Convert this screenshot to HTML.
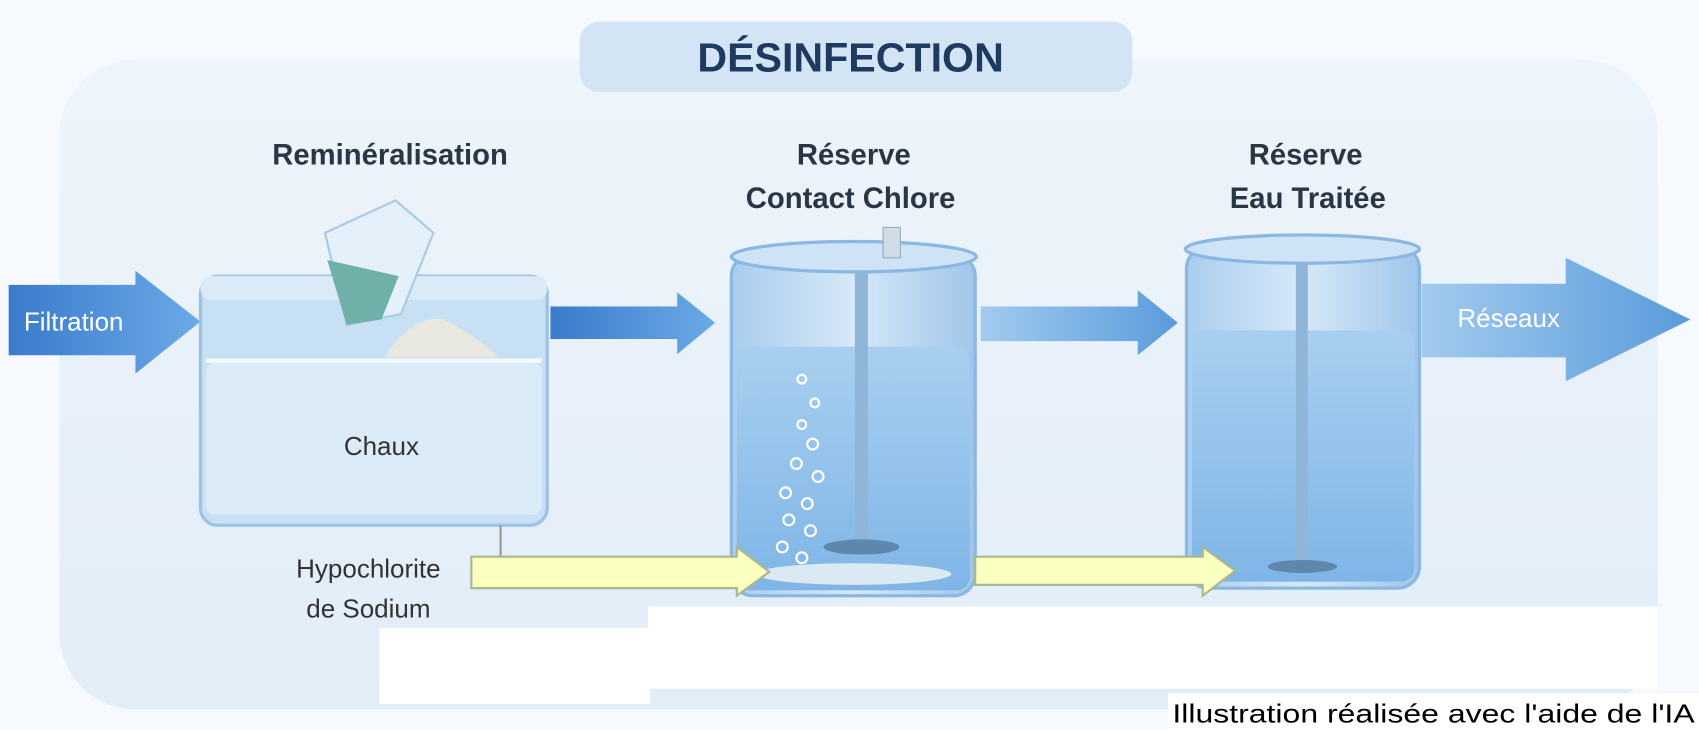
<!DOCTYPE html>
<html><head><meta charset="utf-8"><style>
html,body{margin:0;padding:0;background:#fff;}
svg{display:block;}
text{font-family:"Liberation Sans",sans-serif;}
</style></head><body>
<svg width="1699" height="730" viewBox="0 0 1568 674" preserveAspectRatio="none" xmlns="http://www.w3.org/2000/svg">
<defs>
<linearGradient id="bg" x1="0" y1="0" x2="0" y2="1"><stop offset="0" stop-color="#eef4fb"/><stop offset="1" stop-color="#e2edf8"/></linearGradient>
<linearGradient id="blueArr" x1="0" y1="0" x2="1" y2="0"><stop offset="0" stop-color="#3a7bcc"/><stop offset="1" stop-color="#6aaae6"/></linearGradient>
<linearGradient id="blueArr2" x1="0" y1="0" x2="1" y2="0"><stop offset="0" stop-color="#a2cbee"/><stop offset="1" stop-color="#5a9bdc"/></linearGradient>
<linearGradient id="cyl" x1="0" y1="0" x2="1" y2="0"><stop offset="0" stop-color="#a9cdee"/><stop offset=".5" stop-color="#d6e8f8"/><stop offset="1" stop-color="#9fc6ea"/></linearGradient>
<linearGradient id="water" x1="0" y1="0" x2="0" y2="1"><stop offset="0" stop-color="#a8cff0"/><stop offset="1" stop-color="#7fb5e6"/></linearGradient>
</defs>
<rect width="1568" height="674" fill="#f6f9fd"/>
<rect x="55" y="55" width="1475" height="600" rx="70" fill="url(#bg)"/>
<rect x="535" y="20" width="510" height="65" rx="18" fill="#d3e4f5"/>
<text x="785" y="66" font-size="38" font-weight="bold" fill="#1f3a60" text-anchor="middle">DÉSINFECTION</text>
<text x="360" y="152" font-size="27" font-weight="bold" fill="#2a3545" text-anchor="middle">Reminéralisation</text>
<text x="788" y="152" font-size="27" font-weight="bold" fill="#2a3545" text-anchor="middle">Réserve</text>
<text x="785" y="192" font-size="27" font-weight="bold" fill="#2a3545" text-anchor="middle">Contact Chlore</text>
<text x="1205" y="152" font-size="27" font-weight="bold" fill="#2a3545" text-anchor="middle">Réserve</text>
<text x="1207" y="192" font-size="27" font-weight="bold" fill="#2a3545" text-anchor="middle">Eau Traitée</text>
<polygon points="8,263 125,263 125,250 185,297 125,345 125,328 8,328" fill="url(#blueArr)"/>
<text x="22" y="305" font-size="24" fill="#fff">Filtration</text>
<rect x="185" y="255" width="320" height="230" rx="16" fill="#c8e0f4" stroke="#9cc3e6" stroke-width="3"/>
<rect x="190" y="335" width="310" height="140" rx="8" fill="#dcebf8"/>
<line x1="190" y1="333" x2="500" y2="333" stroke="#f4f9fe" stroke-width="4"/>
<rect x="185" y="255" width="320" height="22" rx="10" fill="#dbeaf7"/>
<path d="M355 330 Q380 290 410 295 Q440 310 460 330 Z" fill="#e8e8e0"/>
<path d="M300 215 L365 185 L400 215 L370 290 L320 300 Z" fill="#e4f0fa" stroke="#aacbe6" stroke-width="2"/>
<path d="M302 240 L368 255 L352 295 L320 300 Z" fill="#6fb1a8"/>
<text x="352" y="420" font-size="24" fill="#333" text-anchor="middle">Chaux</text>
<polygon points="508,283 625,283 625,270 660,298 625,327 625,313 508,313" fill="url(#blueArr)"/>
<rect x="675" y="235" width="225" height="315" rx="20" fill="url(#cyl)" stroke="#8ab8e2" stroke-width="3"/>
<rect x="680" y="320" width="215" height="225" rx="12" fill="url(#water)"/>
<ellipse cx="788" cy="237" rx="113" ry="14" fill="#cfe3f6" stroke="#8ab8e2" stroke-width="3"/>
<rect x="815" y="210" width="16" height="28" fill="#cfdbe6" stroke="#9ab" />
<rect x="789" y="250" width="12" height="255" fill="#8fb6d8"/>
<ellipse cx="795" cy="505" rx="35" ry="7" fill="#5d87ad"/>
<ellipse cx="788" cy="530" rx="90" ry="10" fill="#dbe9f4"/>
<g fill="none" stroke="#fff" stroke-width="2">
<circle cx="740" cy="350" r="4"/><circle cx="752" cy="372" r="4"/><circle cx="740" cy="392" r="4"/><circle cx="750" cy="410" r="5"/><circle cx="735" cy="428" r="5"/><circle cx="755" cy="440" r="5"/><circle cx="725" cy="455" r="5"/><circle cx="745" cy="465" r="5"/><circle cx="728" cy="480" r="5"/><circle cx="748" cy="490" r="5"/><circle cx="722" cy="505" r="5"/><circle cx="740" cy="515" r="5"/>
</g>
<polygon points="905,283 1050,283 1050,268 1087,298 1050,328 1050,315 905,315" fill="url(#blueArr2)"/>
<rect x="1095" y="228" width="215" height="315" rx="20" fill="url(#cyl)" stroke="#8ab8e2" stroke-width="3"/>
<rect x="1100" y="305" width="205" height="232" rx="12" fill="url(#water)"/>
<ellipse cx="1202" cy="230" rx="108" ry="13" fill="#cfe3f6" stroke="#8ab8e2" stroke-width="3"/>
<rect x="1196" y="242" width="11" height="280" fill="#8fb6d8"/>
<ellipse cx="1202" cy="523" rx="32" ry="6" fill="#5d87ad"/>
<polygon points="1312,262 1445,262 1445,238 1560,295 1445,352 1445,330 1312,330" fill="url(#blueArr2)"/>
<text x="1345" y="302" font-size="24" fill="#fff">Réseaux</text>
<line x1="462" y1="485" x2="462" y2="515" stroke="#999" stroke-width="2"/>
<text x="340" y="533" font-size="24" fill="#333" text-anchor="middle">Hypochlorite</text>
<text x="340" y="570" font-size="24" fill="#333" text-anchor="middle">de Sodium</text>
<polygon points="435,514 680,514 680,505 710,528 680,550 680,543 435,543" fill="#fbffc0" stroke="#a8b890" stroke-width="2"/>
<polygon points="900,514 1110,514 1110,505 1140,527 1110,550 1110,540 900,540" fill="#fbffc0" stroke="#a8b890" stroke-width="2"/>
<rect x="350" y="580" width="250" height="70" fill="#fff"/>
<rect x="598" y="560" width="932" height="76" fill="#fff"/>
<rect x="1078" y="640" width="490" height="34" fill="#fff"/>
<text x="1082" y="667" font-size="24" fill="#000" textLength="482" lengthAdjust="spacingAndGlyphs">Illustration réalisée avec l'aide de l'IA</text>
</svg>
</body></html>
